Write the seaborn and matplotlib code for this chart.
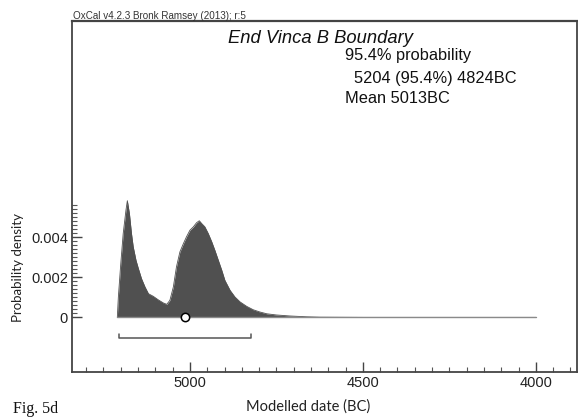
import matplotlib
matplotlib.use("Agg")
import matplotlib.pyplot as plt
import seaborn as sns
import numpy as np
import pandas as pd
from matplotlib.ticker import FixedLocator, FixedFormatter

# ---- data ----
dates = [5210, 5207, 5200, 5193, 5185, 5181, 5175, 5169, 5164, 5156, 5149, 5140,
         5130, 5120, 5106, 5092, 5077, 5067, 5058, 5048, 5039, 5029, 5019, 5010,
         5000, 4990, 4981, 4973, 4966, 4957, 4947, 4937, 4928, 4918, 4908, 4899,
         4884, 4870, 4855, 4836, 4817, 4798, 4778, 4750, 4711, 4663, 4624, 4500, 4000]
density = [0.0, 0.00102, 0.00268, 0.00418, 0.00535, 0.00582, 0.00518, 0.00418,
           0.00352, 0.00285, 0.00243, 0.00193, 0.00152, 0.00118, 0.00105, 0.00088,
           0.00072, 0.00065, 0.00085, 0.00152, 0.00252, 0.00327, 0.00368, 0.00402,
           0.00435, 0.00452, 0.00472, 0.00482, 0.00468, 0.00452, 0.00418, 0.00377,
           0.00335, 0.00285, 0.00235, 0.00185, 0.00135, 0.00102, 0.00077, 0.00055,
           0.00038, 0.00027, 0.00018, 0.00012, 0.00007, 0.00003, 0.00001, 0.0, 0.0]
range_start = 5204
range_end = 4824
mean_date = 5013
x_major = [5000, 4500, 4000]
x_major_labels = ["5000", "4500", "4000"]
y_major = [0, 0.002, 0.004]
y_major_labels = ["0", "0.002", "0.004"]

title = "End Vinca B Boundary"
info_lines = ["95.4% probability", "  5204 (95.4%) 4824BC", "Mean 5013BC"]
header = "OxCal v4.2.3 Bronk Ramsey (2013); r:5"

df = pd.DataFrame({"date": dates, "density": density})

sns.set_style("ticks")
plt.rcParams["font.family"] = ["Liberation Sans", "DejaVu Sans"]

W, H = 578, 417
fig = plt.figure(figsize=(W / 100, H / 100), dpi=100)
ax = fig.add_axes([72 / W, 1 - 371.5 / H, (577 - 72) / W, (371.5 - 20.7) / H])

fill_col = "#505050"
ax.fill_between(df["date"], 0, df["density"], color=fill_col, lw=0, zorder=2)
sns.lineplot(data=df, x="date", y="density", ax=ax, color=fill_col, lw=0.6,
             zorder=3, sort=False)
# baseline
base = pd.DataFrame({"date": [dates[0], dates[-1]], "density": [0, 0]})
sns.lineplot(data=base, x="date", y="density", ax=ax, color="#8a8a8a", lw=1.0, zorder=3)
# mean marker
ax.plot([mean_date], [0], marker="o", ms=6, mfc="white", mec="black", mew=1.1,
        zorder=5, ls="none")
# 95.4% range bracket
yb, yt = -0.00105, -0.00082
ax.plot([range_start, range_start, range_end, range_end], [yt, yb, yb, yt],
        color="#555555", lw=1.1, zorder=4)

ax.set_xlim(5341, 3881)
ax.set_ylim(-0.0027, 0.0148)

ax.xaxis.set_major_locator(FixedLocator(x_major))
ax.xaxis.set_major_formatter(FixedFormatter(x_major_labels))
ax.xaxis.set_minor_locator(FixedLocator(list(range(5300, 3850, -50))))
ax.yaxis.set_major_locator(FixedLocator(y_major))
ax.yaxis.set_major_formatter(FixedFormatter(y_major_labels))
ax.yaxis.set_minor_locator(FixedLocator([i * 0.0002 for i in range(0, 29)]))

ax.tick_params(axis="both", which="major", direction="in", length=7, width=1.0,
               colors="#444444", labelcolor="#222222", labelsize=10.5, pad=3)
ax.tick_params(axis="both", which="minor", direction="in", length=3.5, width=0.8,
               colors="#555555")
for s in ax.spines.values():
    s.set_color("#444444")
    s.set_linewidth(1.3)
ax.spines["top"].set_linewidth(1.6)
ax.set_xlabel("")
ax.set_ylabel("")

# texts
fig.text(73 / W, 1 - 19 / H, header, fontsize=7.1, color="#333333", va="baseline")
fig.text(228 / W, 1 - 43 / H, title, fontsize=13.2, style="italic", va="baseline",
         color="#111111")
fig.text(345 / W, 1 - 60 / H, info_lines[0], fontsize=11.8, va="baseline", color="#111111")
fig.text(345 / W, 1 - 83 / H, info_lines[1], fontsize=11.8, va="baseline", color="#111111")
fig.text(345 / W, 1 - 103 / H, info_lines[2], fontsize=11.8, va="baseline", color="#111111")

fig.text(18 / W, 1 - 267 / H, "Probability density", rotation=90, fontsize=9.5,
         family=["Lato", "DejaVu Sans"], ha="center", va="center", color="#222222")
fig.text(308 / W, 1 - 407 / H, "Modelled date (BC)", fontsize=10.5,
         family=["Lato", "DejaVu Sans"], ha="center", va="center", color="#222222")
fig.text(13 / W, 1 - 401 / H, "Fig. 5d", fontsize=11.5, family=["Liberation Serif", "DejaVu Serif"],
         va="top", color="#111111")

fig.savefig("out.png", dpi=100)
